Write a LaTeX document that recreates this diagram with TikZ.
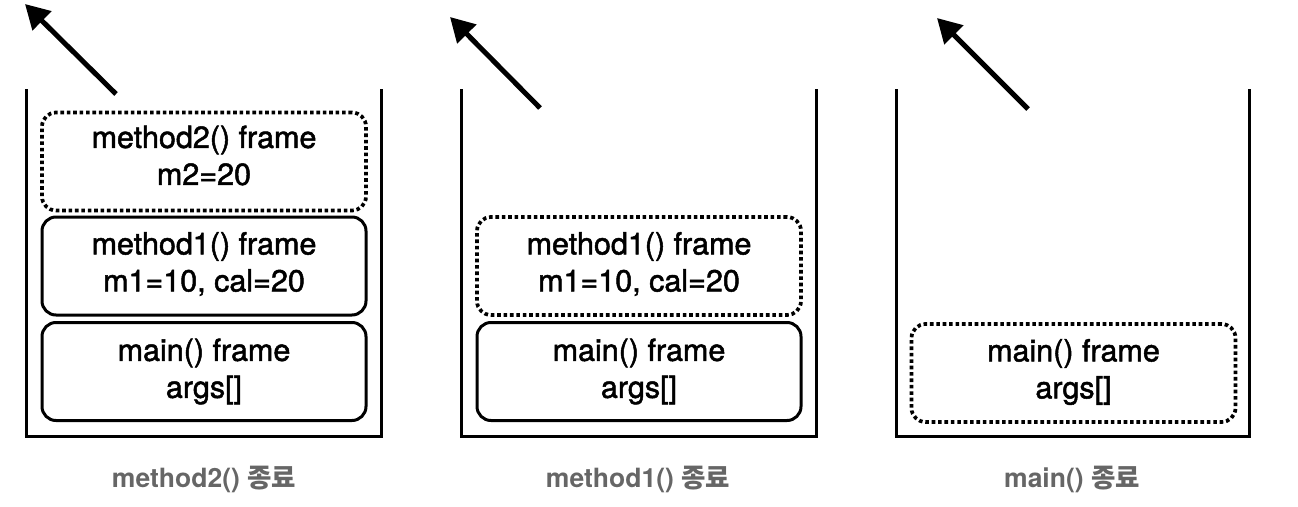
\documentclass[tikz,border=0pt]{standalone}
\usepackage{fontspec}
\setmainfont{TeX Gyre Heros}
\newfontfamily\boxfont{TeX Gyre Heros}[FakeBold=1.6]
\newfontfamily\kr{Noto Sans CJK KR}
\usetikzlibrary{arrows.meta}
\definecolor{capgray}{HTML}{666666}
\tikzset{
  wall/.style={line width=3pt, line join=miter},
  frame/.style={draw, line width=3pt, rounded corners=14pt, minimum width=324pt, minimum height=98pt, inner sep=0pt},
  gone/.style={frame, line width=3.7pt, dash pattern=on 3.6pt off 2.8pt},
  txt/.style={align=center, inner sep=0pt, font=\boxfont\fontsize{30.5}{37}\selectfont},
  caption/.style={text=capgray, font=\fontsize{26.5}{30}\selectfont\bfseries},
  pop/.style={line width=5pt, -{Triangle[length=24pt,width=26pt]}}
}
\begin{document}
\begin{tikzpicture}[x=1pt,y=-1pt]
\useasboundingbox (0,0) rectangle (1298,506);
% stack 1
\draw[wall] (26,89) -- (26,436) -- (381,436) -- (381,89);
\node[gone]  (m2a)   at (204,161.5) {};
\node[frame] (m1a)   at (204,266)   {};
\node[frame] (mainA) at (204,371.5) {};
\node[txt] (m2aT)   at ([yshift=6]m2a)  {method2() frame\\m2=20};
\node[txt] (m1aT)   at ([yshift=2]m1a)  {method1() frame\\m1=10, cal=20};
\node[txt] (mainAT) at (mainA)          {main() frame\\args[]};
\node[caption] (capA) at (204,479) {method2() {\kr 종료}};
\coordinate (tA) at (116,94);
\coordinate (hA) at (25,4);
\draw[pop] (tA) -- (hA);
% stack 2
\draw[wall] (461,89) -- (461,436) -- (816,436) -- (816,89);
\node[gone]  (m1b)   at (639,266)   {};
\node[frame] (mainB) at (639,371.5) {};
\node[txt] (m1bT)   at ([yshift=2]m1b) {method1() frame\\m1=10, cal=20};
\node[txt] (mainBT) at (mainB)         {main() frame\\args[]};
\node[caption] (capB) at (638,479) {method1() {\kr 종료}};
\coordinate (tB) at (540,108);
\coordinate (hB) at (450,17);
\draw[pop] (tB) -- (hB);
% stack 3
\draw[wall] (896,89) -- (896,436) -- (1249,436) -- (1249,89);
\node[gone]  (mainC) at (1073.5,373) {};
\node[txt] (mainCT) at ([yshift=1]mainC) {main() frame\\args[]};
\node[caption] (capC) at (1072,479) {main() {\kr 종료}};
\coordinate (tC) at (1028,109);
\coordinate (hC) at (937,18);
\draw[pop] (tC) -- (hC);
\end{tikzpicture}
\end{document}
